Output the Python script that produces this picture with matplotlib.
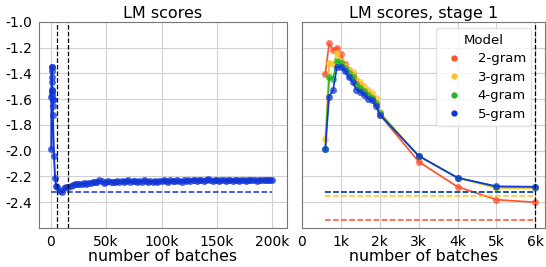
import numpy as np
import matplotlib
matplotlib.use("Agg")
import matplotlib.pyplot as plt
from matplotlib.lines import Line2D

plt.rcParams['axes.unicode_minus'] = False
plt.rcParams['font.family'] = 'DejaVu Sans'

# stage 1 batches
stage1_x = [600, 700, 800, 900, 1000, 1100, 1200, 1300, 1400, 1500, 1600,
            1700, 1800, 1900, 2000, 3000, 4000, 5000, 6000]

scores_2gram = [-1.405, -1.165, -1.22, -1.20, -1.25, -1.33, -1.37, -1.41, -1.46,
                -1.49, -1.53, -1.56, -1.59, -1.64, -1.72, -2.085, -2.28, -2.38, -2.40]
scores_3gram = [-1.91, -1.317, -1.33, -1.245, -1.30, -1.34, -1.37, -1.39, -1.44,
                -1.47, -1.50, -1.53, -1.55, -1.59, -1.70, -2.04, -2.21, -2.29, -2.29]
scores_4gram = [-1.99, -1.43, -1.44, -1.30, -1.32, -1.36, -1.40, -1.43, -1.48,
                -1.51, -1.54, -1.57, -1.59, -1.63, -1.71, -2.04, -2.21, -2.28, -2.28]
scores_5gram = [-1.99, -1.58, -1.53, -1.35, -1.35, -1.38, -1.43, -1.466, -1.525,
                -1.544, -1.57, -1.596, -1.61, -1.649, -1.72, -2.04, -2.21, -2.276, -2.28]

# reference levels (dashed)
ref_2gram = -2.54
ref_3gram = -2.35
ref_4gram = -2.32
ref_5gram = -2.32

# full run (5-gram), after the stage 1 points
long_x = np.arange(8000, 200001, 2000)
long_y = [-2.31, -2.32, -2.29, -2.28, -2.285, -2.27, -2.265, -2.26, -2.26, -2.255,
          -2.26, -2.25, -2.255, -2.25, -2.25, -2.245, -2.245, -2.24, -2.23, -2.235,
          -2.25, -2.245, -2.235, -2.24, -2.24, -2.245, -2.235, -2.24, -2.235, -2.24,
          -2.235, -2.23, -2.24, -2.235, -2.235, -2.24, -2.235, -2.24, -2.23, -2.235,
          -2.24, -2.235, -2.24, -2.235, -2.24, -2.235, -2.235, -2.23, -2.235, -2.24,
          -2.23, -2.235, -2.235, -2.23, -2.235, -2.24, -2.23, -2.235, -2.23, -2.235,
          -2.23, -2.225, -2.235, -2.23, -2.225, -2.235, -2.23, -2.22, -2.23, -2.235,
          -2.225, -2.23, -2.235, -2.23, -2.225, -2.235, -2.23, -2.23, -2.235, -2.225,
          -2.23, -2.235, -2.225, -2.23, -2.235, -2.225, -2.23, -2.23, -2.225, -2.235,
          -2.225, -2.23, -2.225, -2.23, -2.225, -2.23, -2.225]

colors = {'2-gram': '#ff4f2b', '3-gram': '#ffc12b', '4-gram': '#22b522', '5-gram': '#1136d6'}

fig = plt.figure(figsize=(5.46, 2.67), dpi=100)
ax1 = fig.add_axes([0.0714, 0.146, 0.454, 0.772])
ax2 = fig.add_axes([0.553, 0.146, 0.446, 0.772], sharey=ax1)

for ax in (ax1, ax2):
    ax.grid(True, color='#d0d0d0', linewidth=0.8)
    ax.set_axisbelow(True)
    for s in ax.spines.values():
        s.set_color('#777777')
        s.set_linewidth(0.8)
    ax.tick_params(length=0, labelsize=10, pad=5)
    ax.set_xlabel('number of batches', fontsize=11.3, labelpad=0)

# left panel
all_x = list(stage1_x) + list(long_x)
all_y = list(scores_5gram) + list(long_y)
ax1.plot(all_x, all_y, '-', color=colors['5-gram'], lw=1.4)
ax1.plot(all_x, all_y, 'o', color=colors['5-gram'], ms=5, alpha=0.75, mec='none')
ax1.plot([0, 200000], [ref_5gram, ref_5gram], '--', color=colors['5-gram'], lw=1.1)
ax1.axvline(6000, color='black', ls='--', lw=0.9)
ax1.axvline(16000, color='black', ls='--', lw=0.9)
ax1.set_xlim(-10500, 213000)
ax1.set_ylim(-2.6, -1.0)
ax1.set_xticks([0, 50000, 100000, 150000, 200000])
ax1.set_xticklabels(['0', '50k', '100k', '150k', '200k'])
ax1.set_yticks([-1.0, -1.2, -1.4, -1.6, -1.8, -2.0, -2.2, -2.4])
ax1.set_yticklabels(['-1.0', '-1.2', '-1.4', '-1.6', '-1.8', '-2.0', '-2.2', '-2.4'])
ax1.set_title('LM scores', fontsize=11.5, pad=3)

# right panel
series = [('2-gram', scores_2gram, ref_2gram), ('3-gram', scores_3gram, ref_3gram),
          ('4-gram', scores_4gram, ref_4gram), ('5-gram', scores_5gram, ref_5gram)]
for name, ys, ref in series:
    c = colors[name]
    ax2.plot(stage1_x, ys, '-', color=c, lw=1.2)
    ax2.plot(stage1_x, ys, 'o', color=c, ms=5, alpha=0.75, mec='none')
    ax2.plot([600, 6000], [ref, ref], '--', color=c, lw=1.1)
ax2.axvline(6000, color='black', ls='--', lw=0.9)
ax2.set_xlim(0, 6260)
ax2.set_xticks([0, 1000, 2000, 3000, 4000, 5000, 6000])
ax2.set_xticklabels(['0', '1k', '2k', '3k', '4k', '5k', '6k'])
plt.setp(ax2.get_yticklabels(), visible=False)
ax2.set_title('LM scores, stage 1', fontsize=11.5, pad=3)

handles = [Line2D([], [], ls='none', marker='o', ms=3.5, color=colors[n]) for n in colors]
leg = ax2.legend(handles, list(colors), title='Model', loc='upper right',
                 fontsize=9.5, title_fontsize=9.5, labelspacing=0.42,
                 bbox_to_anchor=(0.942, 0.968), borderaxespad=0, framealpha=0.8)
leg.get_frame().set_edgecolor('#dddddd')

fig.savefig('out.png', dpi=100)
